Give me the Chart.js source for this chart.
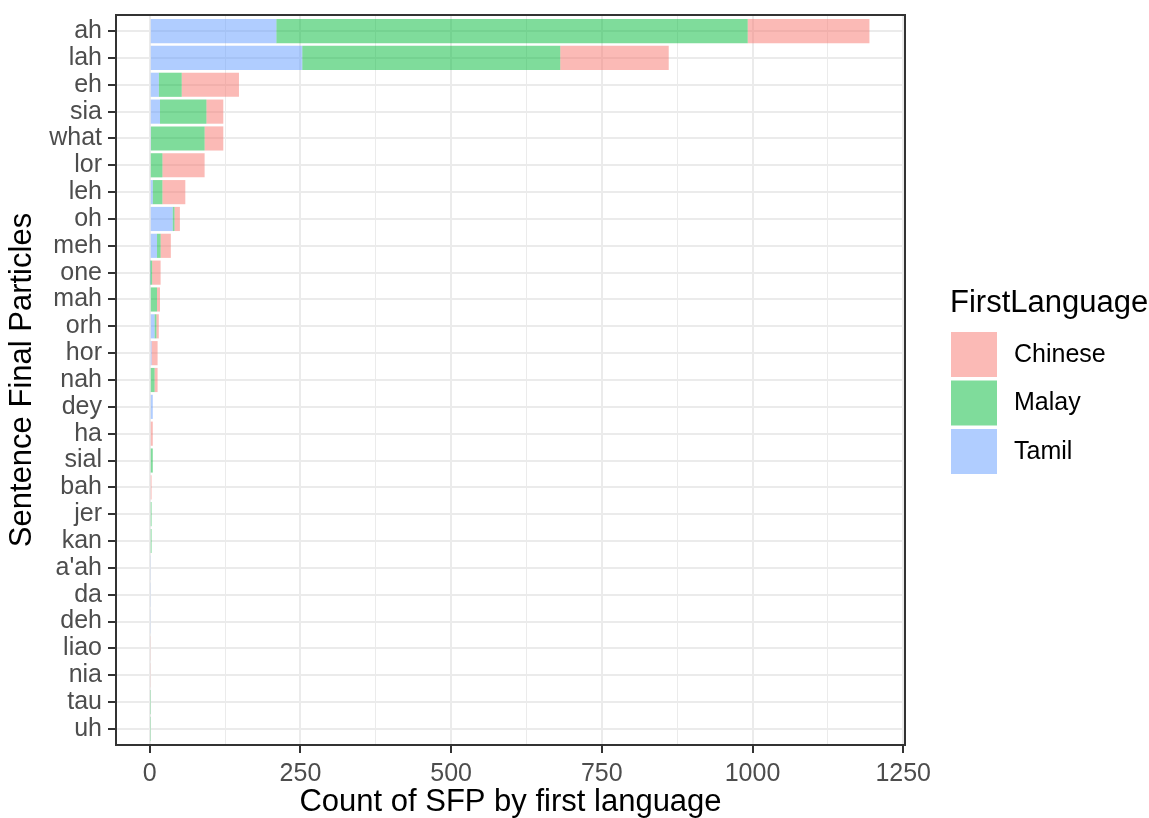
<!DOCTYPE html>
<html>
<head>
<title>SFP by first language</title>
<script src="https://cdn.jsdelivr.net/npm/chart.js@4.4.1/dist/chart.umd.min.js"></script>
<style>
  body { margin: 0; background: #fff; }
</style>
</head>
<body>
<canvas id="sfp" width="1149" height="818"></canvas>
<script>
const particles = ['ah', 'lah', 'eh', 'sia', 'what', 'lor', 'leh', 'oh', 'meh', 'one', 'mah', 'orh', 'hor', 'nah',
                   'dey', 'ha', 'sial', 'bah', 'jer', 'kan', "a'ah", 'da', 'deh', 'liao', 'nia', 'tau', 'uh'];
const tamil   = [210, 253, 15, 17,  2,  0,  5, 38, 12,  1,  0, 8,  3, 0, 5, 0, 0, 0, 0, 0, 2, 2, 2, 0, 0, 0, 0];
const malay   = [782, 428, 38, 77, 89, 21, 16,  3,  6,  3, 12, 3,  0, 8, 0, 0, 5, 0, 3, 3, 0, 0, 0, 0, 0, 1, 1];
const chinese = [202, 180, 95, 28, 31, 70, 38,  9, 17, 14,  5, 4, 10, 5, 0, 5, 0, 3, 0, 0, 0, 0, 0, 2, 2, 0, 0];
const xTicks  = [0, 125, 250, 375, 500, 625, 750, 875, 1000, 1125, 1250];

const FONT = "'Liberation Sans', Arial, sans-serif";
const colours = {
    Chinese: 'rgba(248, 118, 109, 0.5)',
    Malay: 'rgba(0, 186, 56, 0.5)',
    Tamil: 'rgba(97, 156, 255, 0.5)'
};
const legendOrder = ['Chinese', 'Malay', 'Tamil'];

const isMajor = c => c.tick && c.tick.value % 250 === 0;

// panel border + ggplot-like legend on the right
const frame = {
    id: 'frame',
    afterDraw(chart) {
        const {ctx, chartArea: a} = chart;
        ctx.save();
        ctx.strokeStyle = '#333333';
        ctx.lineWidth = 2;
        ctx.strokeRect(a.left, a.top, a.right - a.left, a.bottom - a.top);

        const lx = a.right + 46;
        ctx.fillStyle = '#000';
        ctx.font = '31px ' + FONT;
        ctx.textBaseline = 'alphabetic';
        ctx.fillText('FirstLanguage', lx - 1, 312);
        legendOrder.forEach((name, i) => {
            const y = 332 + i * 48.5;
            ctx.fillStyle = colours[name];
            ctx.fillRect(lx, y, 46, 45);
            ctx.fillStyle = '#000';
            ctx.font = '25px ' + FONT;
            ctx.textBaseline = 'middle';
            ctx.fillText(name, lx + 63, y + 23);
        });
        ctx.restore();
    }
};

new Chart(document.getElementById('sfp'), {
    type: 'bar',
    data: {
        labels: particles,
        datasets: [
            { label: 'Tamil', data: tamil, backgroundColor: colours.Tamil },
            { label: 'Malay', data: malay, backgroundColor: colours.Malay },
            { label: 'Chinese', data: chinese, backgroundColor: colours.Chinese }
        ]
    },
    options: {
        indexAxis: 'y',
        responsive: false,
        animation: false,
        layout: { padding: { top: 15, right: 244, left: 0, bottom: 0 } },
        datasets: { bar: { categoryPercentage: 1, barPercentage: 0.9, borderWidth: 0 } },
        plugins: { legend: { display: false }, tooltip: { enabled: false } },
        scales: {
            x: {
                stacked: true,
                min: -56,
                max: 1253,
                afterBuildTicks: s => { s.ticks = xTicks.map(v => ({ value: v })); },
                afterFit: s => { s.height = 73; },
                border: { display: false },
                grid: {
                    color: '#EBEBEB',
                    lineWidth: c => isMajor(c) ? 2 : 1,
                    tickLength: 8,
                    tickWidth: 2,
                    tickColor: c => isMajor(c) ? '#333333' : 'rgba(0,0,0,0)'
                },
                ticks: {
                    callback: v => v % 250 === 0 ? v : '',
                    autoSkip: false,
                    maxRotation: 0,
                    color: '#4D4D4D',
                    padding: 6,
                    font: { family: FONT, size: 25 }
                },
                title: {
                    display: true,
                    text: 'Count of SFP by first language',
                    color: '#000',
                    font: { family: FONT, size: 31, lineHeight: 1 },
                    padding: { top: 0, bottom: 0 }
                }
            },
            y: {
                stacked: true,
                afterFit: s => { s.width = 116; s.paddingTop = 0; s.paddingBottom = 0; },
                // ggplot discrete expansion of 0.6 on both ends
                afterBuildTicks: s => { s._startValue = -0.6; s._valueRange = particles.length - 1 + 1.2; },
                border: { display: false },
                grid: {
                    offset: false,
                    color: '#EBEBEB',
                    lineWidth: 2,
                    tickLength: 8,
                    tickWidth: 2,
                    tickColor: '#333333'
                },
                ticks: {
                    autoSkip: false,
                    color: '#4D4D4D',
                    padding: 6,
                    font: { family: FONT, size: 25 }
                },
                title: {
                    display: true,
                    text: 'Sentence Final Particles',
                    color: '#000',
                    font: { family: FONT, size: 31, lineHeight: 1 },
                    padding: { top: 7, bottom: 0 }
                }
            }
        }
    },
    plugins: [frame]
});
</script>
</body>
</html>
